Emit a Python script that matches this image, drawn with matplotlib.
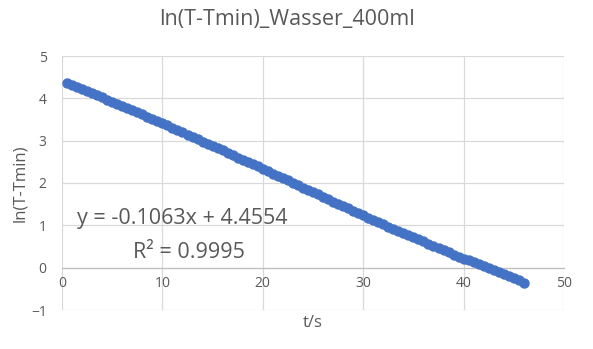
''' ln(T-Tmin) cooling curve, Excel-style scatter '''

import matplotlib
matplotlib.use('Agg')
import matplotlib.pyplot as ppl

# data
t_s = [0.5, 1.0, 1.5, 2.0, 2.5, 3.0, 3.5, 4.0, 4.5, 5.0,
       5.5, 6.0, 6.5, 7.0, 7.5, 8.0, 8.5, 9.0, 9.5, 10.0,
       10.5, 11.0, 11.5, 12.0, 12.5, 13.0, 13.5, 14.0, 14.5, 15.0,
       15.5, 16.0, 16.5, 17.0, 17.5, 18.0, 18.5, 19.0, 19.5, 20.0,
       20.5, 21.0, 21.5, 22.0, 22.5, 23.0, 23.5, 24.0, 24.5, 25.0,
       25.5, 26.0, 26.5, 27.0, 27.5, 28.0, 28.5, 29.0, 29.5, 30.0,
       30.5, 31.0, 31.5, 32.0, 32.5, 33.0, 33.5, 34.0, 34.5, 35.0,
       35.5, 36.0, 36.5, 37.0, 37.5, 38.0, 38.5, 39.0, 39.5, 40.0,
       40.5, 41.0, 41.5, 42.0, 42.5, 43.0, 43.5, 44.0, 44.5, 45.0,
       45.5, 46.0]
ln_dT = [4.36, 4.31, 4.27, 4.22, 4.17, 4.13, 4.07, 4.03, 3.97, 3.92,
         3.87, 3.82, 3.77, 3.72, 3.67, 3.62, 3.56, 3.52, 3.46, 3.41,
         3.36, 3.31, 3.25, 3.20, 3.14, 3.09, 3.04, 2.98, 2.93, 2.87,
         2.82, 2.77, 2.71, 2.66, 2.60, 2.55, 2.50, 2.44, 2.39, 2.33,
         2.28, 2.22, 2.17, 2.11, 2.06, 2.00, 1.95, 1.89, 1.84, 1.78,
         1.73, 1.67, 1.62, 1.56, 1.51, 1.45, 1.40, 1.34, 1.29, 1.24,
         1.18, 1.13, 1.08, 1.03, 0.97, 0.92, 0.87, 0.82, 0.77, 0.72,
         0.67, 0.62, 0.57, 0.51, 0.46, 0.41, 0.36, 0.31, 0.26, 0.21,
         0.17, 0.14, 0.09, 0.04, -0.01, -0.06, -0.10, -0.14, -0.19, -0.24,
         -0.30, -0.37]

x_ticks = [0, 10, 20, 30, 40, 50]
y_ticks = [-1, 0, 1, 2, 3, 4, 5]

TXT = '#595959'
GRID = '#d9d9d9'
BLUE = '#4472c4'
ppl.rcParams['font.family'] = ['Open Sans', 'DejaVu Sans']

fig = ppl.figure(figsize=(5.93, 3.49), dpi=100)
ax = fig.add_axes([62/593, 1-310/349, (564-62)/593, (310-56)/349])

ax.plot(t_s, ln_dT, 'o', color=BLUE, ms=6.5, mec=BLUE, zorder=3, clip_on=False)

ax.set_xlim(0, 50)
ax.set_ylim(-1, 5)
ax.set_xticks(x_ticks)
ax.set_yticks(y_ticks)
ax.grid(True, color=GRID, lw=0.9)
ax.set_axisbelow(True)

for s in ['top', 'right', 'left']:
    ax.spines[s].set_visible(False)
ax.spines['bottom'].set_position(('data', 0))
ax.spines['bottom'].set_color('#bfbfbf')
ax.spines['bottom'].set_linewidth(0.9)
ax.tick_params(length=0, colors=TXT, labelsize=10)
ax.tick_params(axis='x', pad=6)
ax.tick_params(axis='y', pad=11)

fig.text(287/593, 1-19/349, 'ln(T-Tmin)_Wasser_400ml', color=TXT, fontsize=15.5,
         ha='center', va='center')
fig.text(313/593, 1-323/349, 't/s', color=TXT, fontsize=12, ha='center', va='center')
fig.text(20/593, 1-183/349, 'ln(T-Tmin)', color=TXT, fontsize=12, ha='center',
         va='center', rotation=90)

ax.text(1.5, 1.16, 'y = -0.1063x + 4.4554', color=TXT, fontsize=15.5, va='center')
ax.text(7.1, 0.36, 'R² = 0.9995', color=TXT, fontsize=15.5, va='center')

fig.savefig('out.png', dpi=100)
